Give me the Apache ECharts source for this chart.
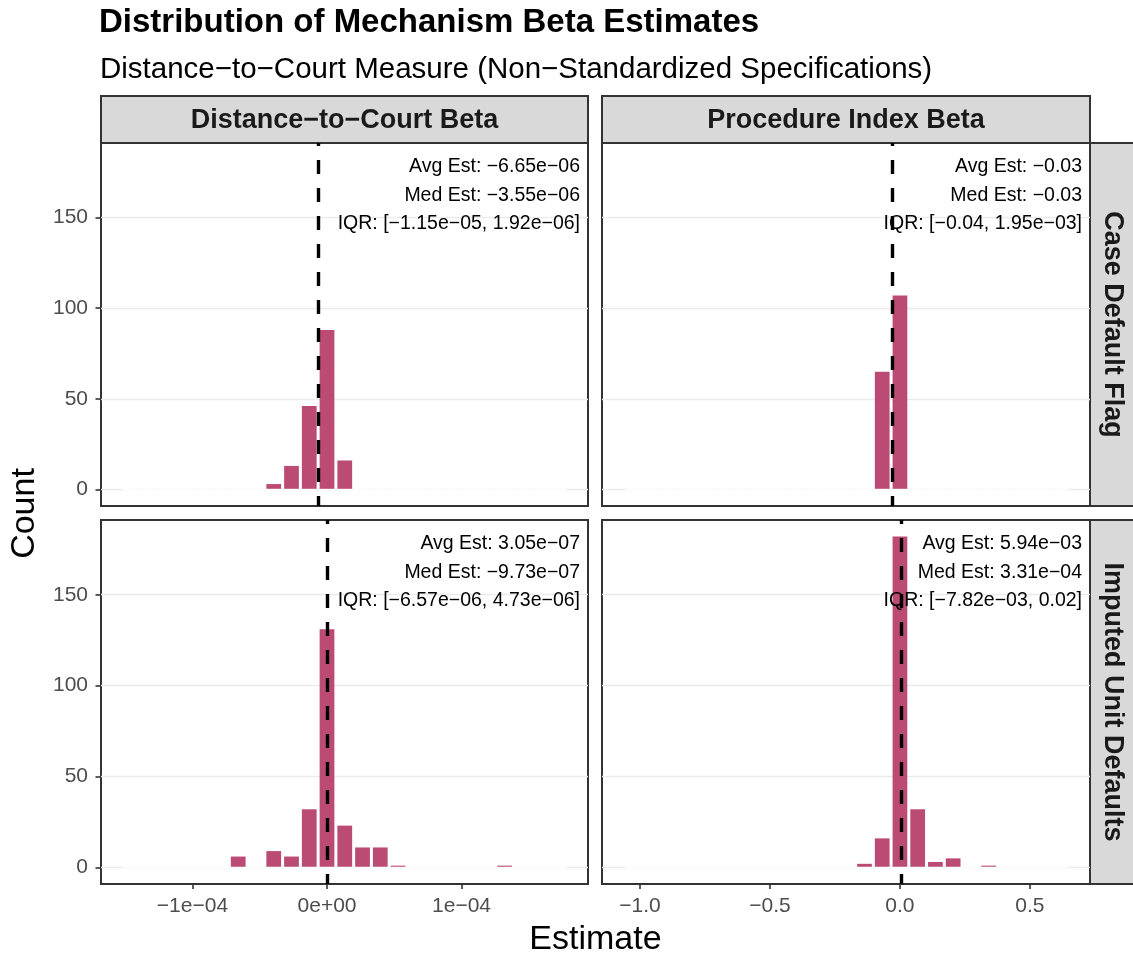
<!DOCTYPE html>
<html><head><meta charset="utf-8">
<script src="https://cdn.jsdelivr.net/npm/echarts@6/dist/echarts.min.js"></script>
<style>html,body{margin:0;padding:0;background:#fff}#chart{width:1133px;height:955px}</style>
</head><body><div id="chart"></div>
<script>
// ---------------- data ----------------
const chartTitle = 'Distribution of Mechanism Beta Estimates';
const chartSubtitle = 'Distance\u2212to\u2212Court Measure (Non\u2212Standardized Specifications)';
const columnLabels = ['Distance\u2212to\u2212Court Beta', 'Procedure Index Beta'];
const rowLabels = ['Case Default Flag', 'Imputed Unit Defaults'];
const xAxisTitle = 'Estimate';
const yAxisTitle = 'Count';

// Distance-to-Court Beta column (bin centres and counts)
const distBinWidth = 1.32e-5;
const distBinCenters = [-1.452e-4, -1.32e-4, -1.188e-4, -1.056e-4, -9.24e-5, -7.92e-5, -6.6e-5, -5.28e-5,
  -3.96e-5, -2.64e-5, -1.32e-5, 0, 1.32e-5, 2.64e-5, 3.96e-5, 5.28e-5, 6.6e-5, 7.92e-5, 9.24e-5,
  1.056e-4, 1.188e-4, 1.32e-4, 1.452e-4, 1.584e-4, 1.716e-4];
const countsDistCase     = [0,0,0,0,0,0,0,0,3,13,46,88,16,0,0,0,0,0,0,0,0,0,0,0,0];
const countsDistImputed  = [0,0,0,0,0,0,6,0,9,6,32,131,23,11,11,1,0,0,0,0,0,1,0,0,0];

// Procedure Index Beta column
const procBinWidth = 0.0682;
const procBinCenters = [-1.023, -0.9548, -0.8866, -0.8184, -0.7502, -0.682, -0.6138, -0.5456, -0.4774,
  -0.4092, -0.341, -0.2728, -0.2046, -0.1364, -0.0682, 0, 0.0682, 0.1364, 0.2046, 0.2728, 0.341,
  0.4092, 0.4774, 0.5456, 0.6138];
const countsProcCase     = [0,0,0,0,0,0,0,0,0,0,0,0,0,0,65,107,0,0,0,0,0,0,0,0,0];
const countsProcImputed  = [0,0,0,0,0,0,0,0,0,0,0,0,0,2,16,182,32,3,5,0,1,0,0,0,0];

// mean estimates (dashed lines): TL, TR, BL, BR
const meanEstimates = [-6.65e-6, -0.03, 3.05e-7, 5.94e-3];
const annotationTexts = [
  ['Avg Est: \u22126.65e\u221206', 'Med Est: \u22123.55e\u221206', 'IQR: [\u22121.15e\u221205, 1.92e\u221206]'],
  ['Avg Est: \u22120.03', 'Med Est: \u22120.03', 'IQR: [\u22120.04, 1.95e\u221203]'],
  ['Avg Est: 3.05e\u221207', 'Med Est: \u22129.73e\u221207', 'IQR: [\u22126.57e\u221206, 4.73e\u221206]'],
  ['Avg Est: 5.94e\u221203', 'Med Est: 3.31e\u221204', 'IQR: [\u22127.82e\u221203, 0.02]']
];

const distTickValues = [-1e-4, 0, 1e-4];
const distTickLabels = ['\u22121e\u221204', '0e+00', '1e\u221204'];
const procTickValues = [-1.0, -0.5, 0, 0.5];
const procTickLabels = ['\u22121.0', '\u22120.5', '0.0', '0.5'];
const countTickValues = [0, 50, 100, 150];
const countTickLabels = ['0', '50', '100', '150'];

// ---------------- layout / style ----------------
const FONT = '"Liberation Sans", Arial, Helvetica, sans-serif';
const barColor = '#BB4B75';
const panels = [
  {left: 101, top: 143, width: 487, height: 363},
  {left: 602, top: 143, width: 488, height: 363},
  {left: 101, top: 520, width: 487, height: 364},
  {left: 602, top: 520, width: 488, height: 364}
];
const xRanges = [[-1.68e-4, 1.94e-4], [-1.146, 0.731]];
const yRange = [-9.1, 191.1];

function labelFor(values, labels) {
  return function (v) {
    for (let i = 0; i < values.length; i++) {
      if (Math.abs(v - values[i]) < 1e-9 * Math.max(1, Math.abs(values[i])) + 1e-12) return labels[i];
    }
    return '';
  };
}

function histRender(binWidth) {
  const inset = 1.5;
  return function (params, api) {
    const x = api.value(0), c = api.value(1);
    const p0 = api.coord([x - binWidth / 2, c]);
    const p1 = api.coord([x + binWidth / 2, 0]);
    return {
      type: 'group',
      children: [
        {type: 'rect',
         shape: {x: p0[0] + inset, y: p0[1], width: p1[0] - p0[0] - 2 * inset, height: p1[1] - p0[1]},
         style: {fill: barColor}},
        {type: 'line',
         shape: {x1: p0[0], y1: p1[1], x2: p1[0], y2: p1[1]},
         style: {stroke: '#ffffff', lineWidth: 1.4}}
      ]
    };
  };
}

const panelData = [
  {centers: distBinCenters, counts: countsDistCase, width: distBinWidth},
  {centers: procBinCenters, counts: countsProcCase, width: procBinWidth},
  {centers: distBinCenters, counts: countsDistImputed, width: distBinWidth},
  {centers: procBinCenters, counts: countsProcImputed, width: procBinWidth}
];

const grids = panels.map(p => ({
  left: p.left, top: p.top, width: p.width, height: p.height,
  show: true, backgroundColor: '#ffffff', borderColor: '#333333', borderWidth: 2,
  containLabel: false, outerBoundsMode: 'none'
}));

const xAxes = panels.map((p, i) => {
  const col = i % 2, bottom = i >= 2;
  const tv = col === 0 ? distTickValues : procTickValues;
  const tl = col === 0 ? distTickLabels : procTickLabels;
  return {
    type: 'value', gridIndex: i, min: xRanges[col][0], max: xRanges[col][1],
    axisLine: {show: false, onZero: false},
    splitLine: {show: false},
    axisTick: {show: bottom, length: 5, customValues: tv, lineStyle: {color: '#333333', width: 1.6}},
    axisLabel: {show: bottom, customValues: tv, formatter: labelFor(tv, tl), fontSize: 21,
      color: '#4D4D4D', fontFamily: FONT, margin: 12}
  };
});

const yAxes = panels.map((p, i) => {
  const left = i % 2 === 0;
  return {
    type: 'value', gridIndex: i, min: yRange[0], max: yRange[1],
    axisLine: {show: false, onZero: false},
    splitLine: {show: true, lineStyle: {color: '#EBEBEB', width: 1.4}},
    axisTick: {show: left, length: 5.5, customValues: countTickValues, lineStyle: {color: '#333333', width: 1.6}},
    axisLabel: {show: left, customValues: countTickValues, formatter: labelFor(countTickValues, countTickLabels),
      fontSize: 21, color: '#4D4D4D', fontFamily: FONT, margin: 13}
  };
});

const series = panelData.map((d, i) => ({
  type: 'custom', xAxisIndex: i, yAxisIndex: i,
  renderItem: histRender(d.width),
  encode: {x: 0, y: 1},
  data: d.centers.map((c, j) => [c, d.counts[j]]),
  silent: true,
  markLine: {
    silent: true, symbol: ['none', 'none'], label: {show: false}, precision: 12,
    lineStyle: {color: '#000000', width: 3.4, type: [14, 14], dashOffset: 4},
    data: [{xAxis: meanEstimates[i]}]
  }
}));

const graphics = [];
function txt(x, y, text, font, align, extra) {
  return Object.assign({type: 'text', x: x, y: y, style: {text: text, font: font, fill: '#000',
    align: align, verticalAlign: 'middle', textAlign: align, textVerticalAlign: 'middle'}}, extra || {});
}
// titles
graphics.push(txt(99, 23, chartTitle, 'bold 33px ' + FONT, 'left'));
graphics.push(txt(100, 70, chartSubtitle, '29.5px ' + FONT, 'left'));
// column strips
[0, 1].forEach(c => {
  const p = panels[c];
  graphics.push({type: 'rect', shape: {x: p.left, y: 96, width: p.width, height: 47},
    style: {fill: '#D9D9D9', stroke: '#333333', lineWidth: 2}});
  const t = txt(p.left + p.width / 2, 121, columnLabels[c], 'bold 27px ' + FONT, 'center');
  t.style.fill = '#1A1A1A';
  graphics.push(t);
});
// row strips
[0, 1].forEach(r => {
  const p = panels[r * 2 + 1];
  graphics.push({type: 'rect', shape: {x: p.left + p.width, y: p.top, width: 50, height: p.height},
    style: {fill: '#D9D9D9', stroke: '#333333', lineWidth: 2}});
  const t = txt(p.left + p.width + 22, p.top + p.height / 2, rowLabels[r], 'bold 27px ' + FONT, 'center',
    {rotation: -Math.PI / 2});
  t.style.fill = '#1A1A1A';
  graphics.push(t);
});
// annotations
panels.forEach((p, i) => {
  annotationTexts[i].forEach((t, k) => {
    graphics.push(txt(p.left + p.width - 8, p.top + 24 + k * 28.5, t, '19.5px ' + FONT, 'right', {z: 50}));
  });
});
// axis titles
graphics.push(txt((panels[0].left + panels[1].left + panels[1].width) / 2, 940, xAxisTitle, '34px ' + FONT, 'center'));
graphics.push(txt(25, (panels[0].top + panels[2].top + panels[2].height) / 2, yAxisTitle, '34px ' + FONT, 'center',
  {rotation: Math.PI / 2}));

const chart = echarts.init(document.getElementById('chart'), null, {renderer: 'canvas'});
chart.setOption({
  animation: false,
  backgroundColor: '#ffffff',
  grid: grids,
  xAxis: xAxes,
  yAxis: yAxes,
  series: series,
  graphic: {elements: graphics}
});
</script>
</body></html>
